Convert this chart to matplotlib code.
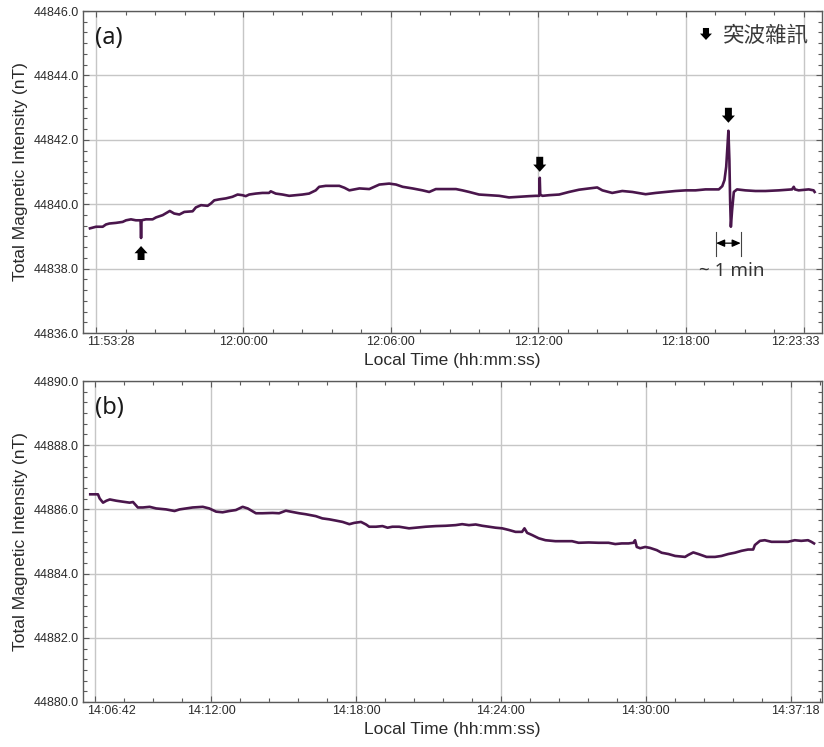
import matplotlib
matplotlib.use("Agg")
import numpy as np
import matplotlib.pyplot as plt
from matplotlib.ticker import MultipleLocator, AutoMinorLocator, FormatStrFormatter

# ---------------- data ----------------
# panel (a): time in minutes relative to 12:00:00, total field in nT
t_a = [-6.25, -6.00, -5.73, -5.60, -5.46, -5.19, -4.92, -4.78, -4.58, -4.38, -4.19, -4.17, -4.15,
       -3.97, -3.70, -3.56, -3.29, -3.00, -2.82, -2.61, -2.41, -2.07, -1.94, -1.73, -1.46, -1.33,
       -1.19, -0.99, -0.72, -0.45, -0.24, -0.04, 0.09, 0.23, 0.50, 0.77, 1.04, 1.11, 1.31, 1.59,
       1.86, 2.13, 2.40, 2.67, 2.94, 3.08, 3.35, 3.62, 3.90, 4.11, 4.31, 4.72, 5.12, 5.53, 5.93,
       6.21, 6.48, 6.88, 7.29, 7.56, 7.83, 8.24, 8.65, 8.91, 9.19, 9.59, 10.00, 10.41, 10.81,
       11.22, 11.63, 11.90, 12.04, 12.06, 12.08, 12.17, 12.44, 12.85, 13.25, 13.66, 14.07, 14.40,
       14.61, 15.01, 15.42, 15.83, 16.37, 16.78, 17.18, 17.59, 18.00, 18.40, 18.81, 19.35, 19.49,
       19.58, 19.65, 19.70, 19.74, 19.78, 19.81, 19.84, 19.89, 19.96, 20.09, 20.43, 20.84, 21.25,
       21.79, 22.33, 22.40, 22.45, 22.60, 23.01, 23.21, 23.25]
v_a = [44839.25, 44839.30, 44839.30, 44839.37, 44839.40, 44839.42, 44839.45, 44839.50, 44839.53,
       44839.50, 44839.50, 44838.95, 44839.50, 44839.53, 44839.53, 44839.59, 44839.66, 44839.79,
       44839.71, 44839.68, 44839.76, 44839.78, 44839.90, 44839.97, 44839.95, 44840.02, 44840.12,
       44840.15, 44840.18, 44840.23, 44840.30, 44840.28, 44840.25, 44840.30, 44840.33, 44840.35,
       44840.35, 44840.40, 44840.33, 44840.30, 44840.26, 44840.28, 44840.30, 44840.33, 44840.43,
       44840.54, 44840.57, 44840.57, 44840.57, 44840.51, 44840.43, 44840.49, 44840.47, 44840.61,
       44840.64, 44840.61, 44840.54, 44840.49, 44840.43, 44840.38, 44840.47, 44840.47, 44840.47,
       44840.43, 44840.38, 44840.30, 44840.28, 44840.26, 44840.21, 44840.23, 44840.25, 44840.26,
       44840.26, 44840.82, 44840.30, 44840.26, 44840.28, 44840.30, 44840.38, 44840.45, 44840.49,
       44840.52, 44840.43, 44840.35, 44840.41, 44840.38, 44840.31, 44840.35, 44840.38, 44840.41,
       44840.43, 44840.43, 44840.46, 44840.46, 44840.56, 44840.75, 44841.16, 44841.78, 44842.28,
       44841.37, 44840.12, 44839.30, 44839.81, 44840.38, 44840.46, 44840.43, 44840.41, 44840.41,
       44840.43, 44840.46, 44840.54, 44840.46, 44840.43, 44840.46, 44840.43, 44840.38]

# panel (b): time in minutes relative to 14:12:00, total field in nT
t_b = [-5.00, -4.68, -4.61, -4.47, -4.33, -4.19, -3.92, -3.65, -3.37, -3.23, -3.03, -2.82, -2.54,
       -2.27, -1.86, -1.51, -1.30, -1.03, -0.76, -0.34, -0.07, 0.21, 0.48, 0.76, 1.03, 1.31, 1.52,
       1.86, 2.13, 2.55, 2.82, 3.10, 3.30, 3.65, 3.92, 4.34, 4.61, 4.90, 5.18, 5.45, 5.73, 5.93,
       6.21, 6.42, 6.55, 6.83, 7.10, 7.31, 7.51, 7.79, 8.20, 8.48, 8.89, 9.31, 9.72, 10.13, 10.40,
       10.68, 10.96, 11.23, 11.51, 11.78, 12.06, 12.33, 12.61, 12.88, 12.98, 13.09, 13.30, 13.57,
       13.85, 14.26, 14.67, 14.95, 15.22, 15.64, 16.05, 16.46, 16.74, 17.01, 17.29, 17.49, 17.56,
       17.63, 17.77, 17.98, 18.18, 18.46, 18.66, 18.94, 19.22, 19.63, 19.76, 19.97, 20.18, 20.52,
       20.87, 21.14, 21.42, 21.69, 21.97, 22.24, 22.45, 22.52, 22.73, 22.93, 23.21, 23.62, 23.89,
       24.17, 24.44, 24.72, 24.86, 24.97]
v_b = [44886.47, 44886.47, 44886.34, 44886.21, 44886.27, 44886.31, 44886.27, 44886.24, 44886.21,
       44886.23, 44886.06, 44886.06, 44886.08, 44886.03, 44886.00, 44885.95, 44886.00, 44886.03,
       44886.06, 44886.08, 44886.03, 44885.93, 44885.91, 44885.95, 44885.98, 44886.08, 44886.03,
       44885.88, 44885.88, 44885.89, 44885.88, 44885.96, 44885.93, 44885.88, 44885.85, 44885.79,
       44885.72, 44885.69, 44885.65, 44885.61, 44885.54, 44885.58, 44885.61, 44885.53, 44885.46,
       44885.46, 44885.48, 44885.43, 44885.46, 44885.46, 44885.41, 44885.43, 44885.46, 44885.48,
       44885.49, 44885.51, 44885.54, 44885.51, 44885.53, 44885.49, 44885.46, 44885.43, 44885.41,
       44885.36, 44885.30, 44885.30, 44885.41, 44885.27, 44885.20, 44885.10, 44885.04, 44885.01,
       44885.01, 44885.01, 44884.96, 44884.97, 44884.96, 44884.96, 44884.92, 44884.94, 44884.94,
       44884.96, 44885.04, 44884.83, 44884.79, 44884.83, 44884.80, 44884.73, 44884.65, 44884.61,
       44884.55, 44884.52, 44884.58, 44884.66, 44884.61, 44884.52, 44884.52, 44884.55, 44884.61,
       44884.65, 44884.71, 44884.75, 44884.75, 44884.89, 44885.02, 44885.04, 44884.99, 44884.99,
       44884.99, 44885.04, 44885.02, 44885.04, 44884.99, 44884.94]

# axis ranges (minutes relative to reference) and tick definitions
xlim_a = (-(6 + 32 / 60), 23 + 33 / 60)        # 11:53:28 .. 12:23:33
xlim_b = (-(5 + 18 / 60), 25 + 18 / 60)        # 14:06:42 .. 14:37:18
ticks_a = [-6.0, 0.0, 6.0, 12.0, 18.0, 22.8]
labels_a = ["11:53:28", "12:00:00", "12:06:00", "12:12:00", "12:18:00", "12:23:33"]
ticks_b = [-4.8, 0.0, 6.0, 12.0, 18.0, 24.0]
labels_b = ["14:06:42", "14:12:00", "14:18:00", "14:24:00", "14:30:00", "14:37:18"]
ylim_a = (44836.0, 44846.0)
ylim_b = (44880.0, 44890.0)
spike_times_a = [-4.17, 12.06, 19.74]

# ---------------- style ----------------
LINE = "#4a164c"
GRID = "#c6c6c6"
SPINE = "#5a5a5a"
TXT = "#2a2a2a"
TICKFONT = "Liberation Sans"

W, H = 824, 747
fig = plt.figure(figsize=(W / 100, H / 100), dpi=100)
ax_a = fig.add_axes([83 / W, 1 - 333 / H, 739 / W, 322 / H])
ax_b = fig.add_axes([83 / W, 1 - 702 / H, 739 / W, 321 / H])


def style_axes(ax, t, v, xlim, ylim, ticks, labels, tag):
    ax.plot(t, v, color=LINE, lw=1.9, solid_joinstyle="round", zorder=3)
    ax.set_xlim(*xlim)
    ax.set_ylim(*ylim)
    ax.set_axisbelow(True)
    ax.yaxis.set_major_locator(MultipleLocator(2))
    ax.yaxis.set_minor_locator(AutoMinorLocator(6))
    ax.yaxis.set_major_formatter(FormatStrFormatter("%.1f"))
    ax.set_xticks(ticks)
    ax.set_xticklabels([""] + labels[1:-1] + [""])
    ax.xaxis.set_minor_locator(MultipleLocator(1.2))
    ax.grid(True, which="major", color=GRID, lw=1.0)
    ax.tick_params(which="both", direction="in", top=True, right=True, color=SPINE,
                   labelsize=9, labelcolor=TXT, width=0.8)
    ax.tick_params(which="major", length=4)
    ax.tick_params(which="minor", length=3)
    ax.tick_params(axis="x", pad=2.5)
    ax.tick_params(axis="y", pad=3)
    for lab in ax.get_xticklabels() + ax.get_yticklabels():
        lab.set_fontfamily(TICKFONT)
    for s in ax.spines.values():
        s.set_color(SPINE)
        s.set_linewidth(1.0)
    # edge tick labels placed inside the axis span, as in the original
    ax.annotate(labels[0], xy=(0, 0), xycoords="axes fraction", xytext=(3, -2),
                textcoords="offset points", ha="left", va="top", fontsize=9,
                family=TICKFONT, color=TXT)
    ax.annotate(labels[-1], xy=(1, 0), xycoords="axes fraction", xytext=(-1.5, -2),
                textcoords="offset points", ha="right", va="top", fontsize=9,
                family=TICKFONT, color=TXT)
    ax.set_xlabel("Local Time (hh:mm:ss)", fontsize=12.5, family=TICKFONT, color=TXT, labelpad=3)
    ax.set_ylabel("Total Magnetic Intensity (nT)", fontsize=12.5, family=TICKFONT, color=TXT,
                  labelpad=4)
    ax.text(0.016, 0.917, tag, transform=ax.transAxes, fontsize=17, family="Noto Sans",
            color="#1a1a1a", ha="left", va="center")


style_axes(ax_a, t_a, v_a, xlim_a, ylim_a, ticks_a, labels_a, "(a)")
style_axes(ax_b, t_b, v_b, xlim_b, ylim_b, ticks_b, labels_b, "(b)")


def block_arrow(ax, xy, direction, gap_px, length_px=14, head_w=9.4, head_l=5.2, tail_w=5.0,
                coords="data"):
    """direction=+1: arrow points up (placed below xy); -1: points down (placed above xy)."""
    off = -(gap_px + length_px) * direction
    ax.annotate("", xy=xy, xycoords=coords, xytext=(0, off), textcoords="offset pixels",
                arrowprops=dict(arrowstyle=f"simple,head_length={head_l},head_width={head_w},"
                                           f"tail_width={tail_w}",
                                fc="black", ec="black", lw=0, shrinkA=0,
                                shrinkB=gap_px * 0.72, mutation_scale=1), zorder=5)


ta = np.array(t_a)
va = np.array(v_a)
# spike 1: downward spike, arrow from below pointing up
i0 = int(np.argmin(np.abs(ta - spike_times_a[0])))
block_arrow(ax_a, (ta[i0], va[i0]), +1, gap_px=8)
# spike 2: small upward spike
i1 = int(np.argmin(np.abs(ta - spike_times_a[1])))
block_arrow(ax_a, (ta[i1], va[i1]), -1, gap_px=6, length_px=15)
# spike 3: large spike
i2 = int(np.argmin(np.abs(ta - spike_times_a[2])))
block_arrow(ax_a, (ta[i2], va[i2]), -1, gap_px=8, length_px=15)

# legend-like marker
block_arrow(ax_a, (0.843, 0.910), -1, gap_px=0, length_px=12, head_w=8.6, head_l=4.6,
            tail_w=4.4, coords="axes fraction")
ax_a.text(0.866, 0.922, "突波雜訊", transform=ax_a.transAxes, fontsize=15.5,
          family=["Noto Sans CJK TC", "DejaVu Sans"], color="#3a3a3a", ha="left", va="center")

# ~1 min duration bracket around the large spike
tb0, tb1 = ta[i2] - 0.5, ta[i2] + 0.5
for tb in (tb0, tb1):
    ax_a.plot([tb, tb], [44838.40, 44839.15], color="#444444", lw=0.8, zorder=4)
ax_a.annotate("", xy=(tb0, 44838.79), xytext=(tb1, 44838.79),
              arrowprops=dict(arrowstyle="<|-|>,head_length=0.5,head_width=0.22",
                              color="black", lw=0.9, shrinkA=0, shrinkB=0, mutation_scale=10))
ax_a.text(19.88, 44837.92, "~ 1 min", fontsize=13.5, family="Noto Sans", color="#333333",
          ha="center", va="center")

fig.savefig("out.png", dpi=100)
